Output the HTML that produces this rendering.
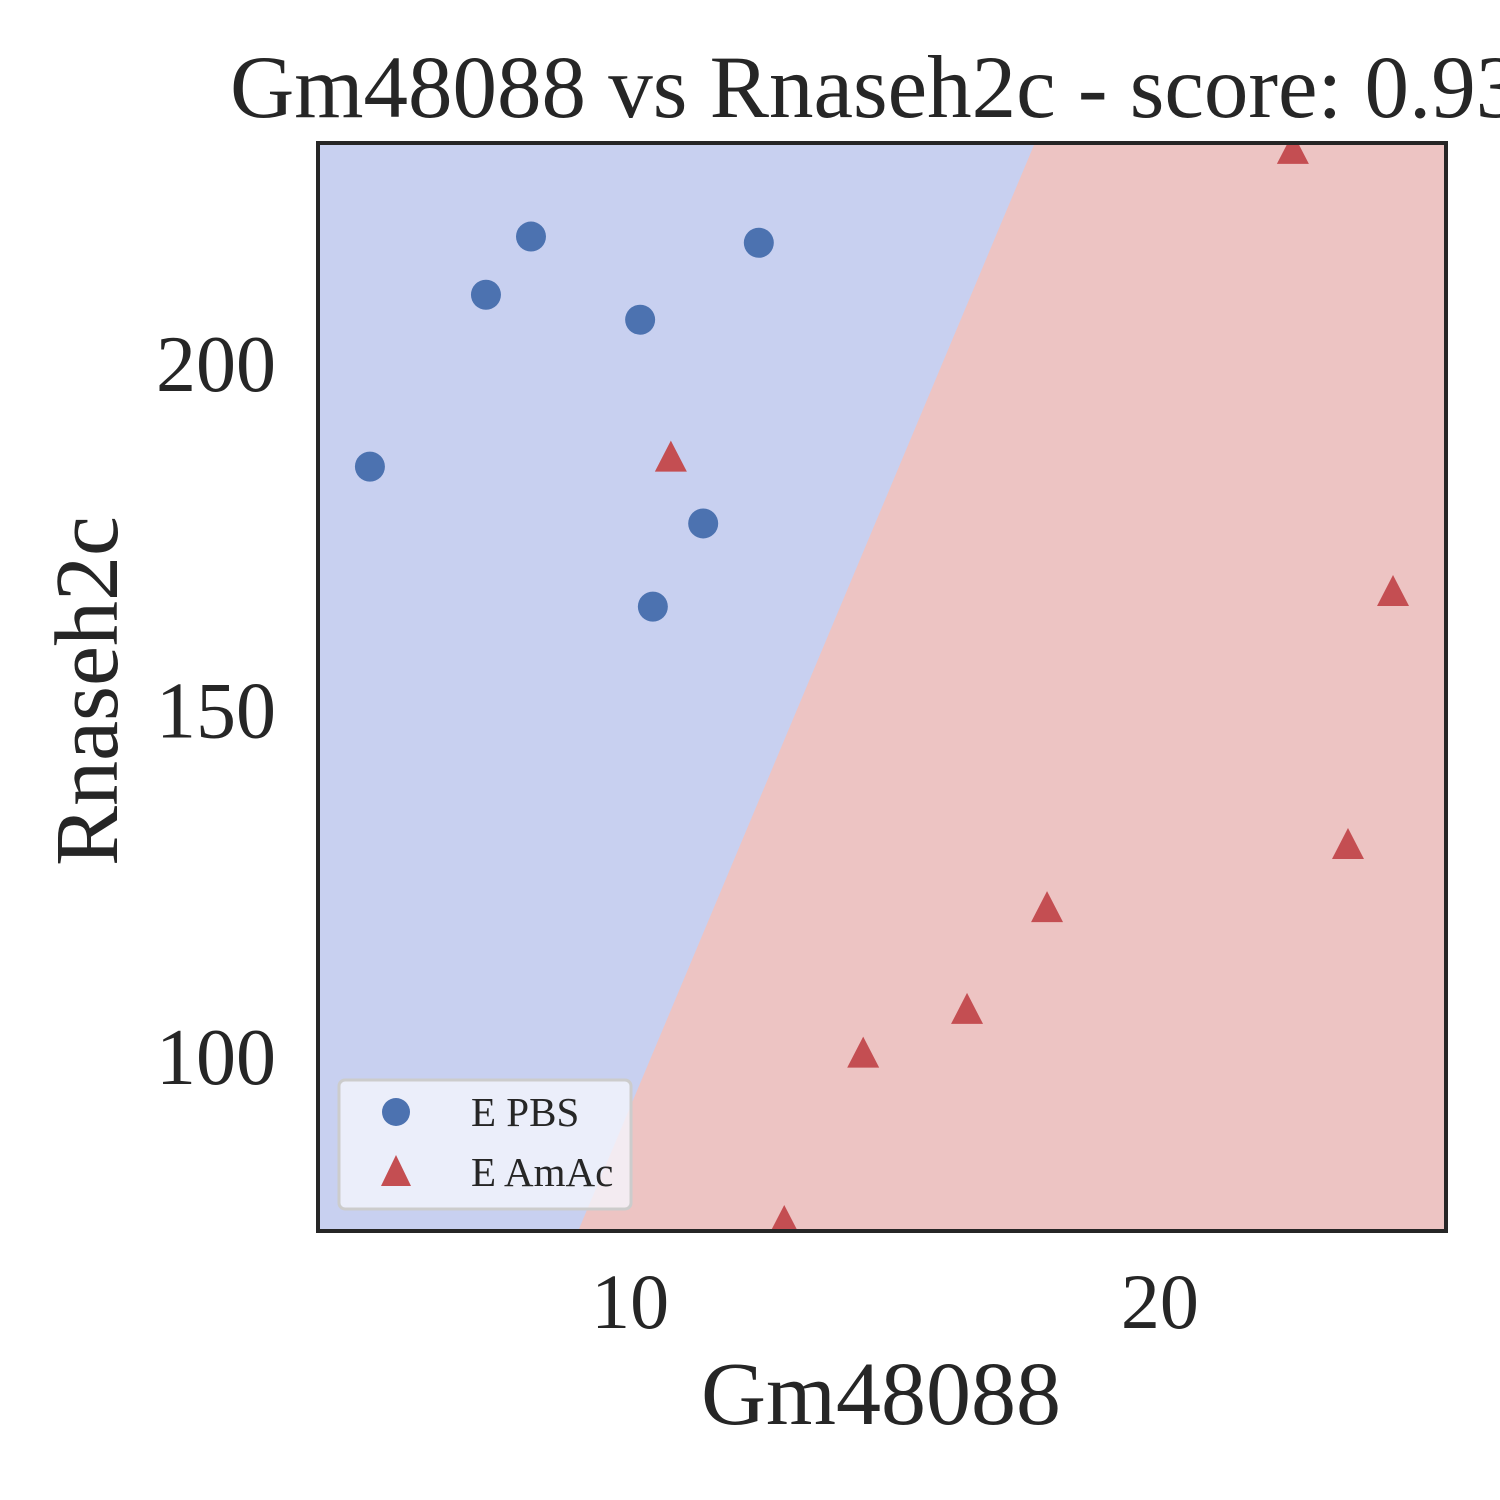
<!DOCTYPE html>
<html><head><meta charset="utf-8"><style>
html,body{margin:0;padding:0;background:#fff;width:1500px;height:1500px;overflow:hidden}
svg text{font-family:"Liberation Serif",serif;fill:#262626}
</style></head><body>
<svg id="chart" width="1500" height="1500" xmlns="http://www.w3.org/2000/svg">
<defs><clipPath id="plotclip"><rect x="318" y="143" width="1128" height="1088"/></clipPath></defs>
<text x="230" y="117" font-size="89">Gm48088 vs Rnaseh2c - score: 0.93</text>
<g id="plot" clip-path="url(#plotclip)"></g>
<g id="axes"></g>
<text x="881" y="1424" font-size="90" text-anchor="middle">Gm48088</text>
<text transform="translate(117,691) rotate(-90)" font-size="90" text-anchor="middle">Rnaseh2c</text>
<g>
<rect x="339" y="1080" width="292" height="129" rx="6" fill="#f4f5fc" stroke="#cccccc" stroke-width="3" fill-opacity="0.8"/>
<circle cx="396" cy="1112" r="14" fill="#4c72b0"/>
<polygon points="396,1155 411,1186 381,1186" fill="#c44e52"/>
<text x="471" y="1126" font-size="41">E PBS</text>
<text x="471" y="1186" font-size="41">E AmAc</text>
</g>
</svg>
<script>
const pbsX=[5.09,7.28,8.13,10.19,12.43,11.38,10.43];
const pbsY=[185.3,210.1,218.5,206.5,217.6,177.1,165.1];
const amacX=[10.77,22.51,24.40,23.55,17.87,16.36,14.40,12.91];
const amacY=[186.6,231.0,167.2,130.7,121.6,106.9,100.6,76.3];
const xTicks=[10,20];
const yTicks=[100,150,200];
const boundaryX=[9.02,17.64];
const boundaryY=[75,232];
const X0=318,X1=1446,Y0=143,Y1=1231,xmin=4.11,xmax=25.4,ymin=75.0,ymax=232.0;
const sx=v=>X0+(v-xmin)/(xmax-xmin)*(X1-X0);
const sy=v=>Y1-(v-ymin)/(ymax-ymin)*(Y1-Y0);
const NS="http://www.w3.org/2000/svg";
const plot=document.getElementById('plot'),axes=document.getElementById('axes');
function mk(tag,attrs,parent){const e=document.createElementNS(NS,tag);for(const k in attrs)e.setAttribute(k,attrs[k]);parent.appendChild(e);return e;}
const bx0=sx(boundaryX[0]),by0=sy(boundaryY[0]),bx1=sx(boundaryX[1]),by1=sy(boundaryY[1]);
const bg=mk('rect',{x:X0,y:Y0,width:X1-X0,height:Y1-Y0,fill:'#c8d0f0'},plot);


const rr=mk('polygon',{points:`${bx0},${by0} ${bx1},${by1} ${X1+50},${by1} ${X1+50},${by0}`,fill:'#edc4c3'},plot);


pbsX.forEach((x,i)=>{const c=mk('circle',{cx:sx(x),cy:sy(pbsY[i]),r:15,fill:'#4c72b0'},plot);

});
amacX.forEach((x,i)=>{const px=sx(x),py=sy(amacY[i]);const t=mk('polygon',{points:`${px},${py-17} ${px+16},${py+14} ${px-16},${py+14}`,fill:'#c44e52'},plot);

});
const fr=mk('rect',{x:X0,y:Y0,width:X1-X0,height:Y1-Y0,fill:'none',stroke:'#262626','stroke-width':4},axes);


xTicks.forEach(v=>{const t=mk('text',{x:sx(v),y:1328,'font-size':78,'text-anchor':'middle'},axes);t.textContent=v;

});
yTicks.forEach(v=>{const t=mk('text',{x:276,y:sy(v)+26,'font-size':80,'text-anchor':'end'},axes);t.textContent=v;

});
</script>
</body></html>
